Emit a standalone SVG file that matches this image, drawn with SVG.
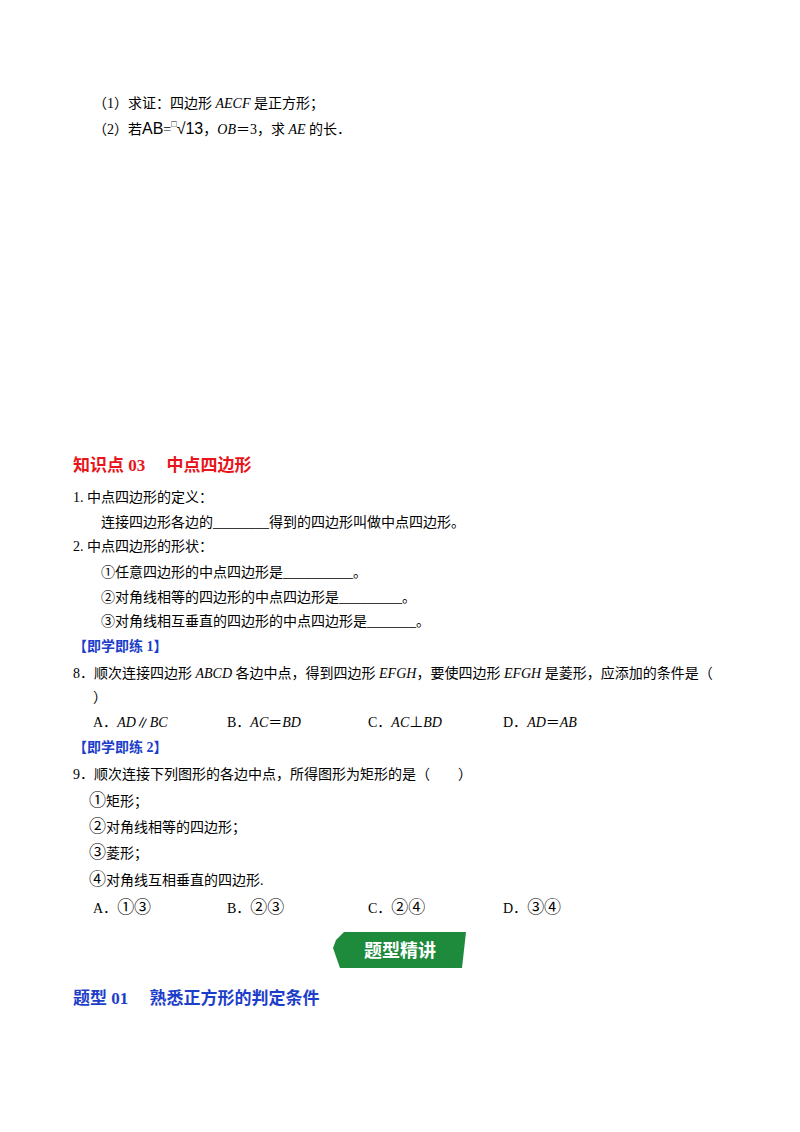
<svg xmlns="http://www.w3.org/2000/svg" width="800" height="1132" viewBox="0 0 800 1132">
<style>
text{font-family:"Liberation Serif","Noto Sans CJK SC",serif;font-size:14px;fill:#000}
.i{font-style:italic}
.h{font-size:17px;font-weight:bold}
.red{fill:#e8141c}
.blue{fill:#1d3ec9;font-weight:bold}
.c{font-size:17px}
.w{fill:#fff;font-family:"Noto Sans CJK SC",sans-serif;font-size:18px;font-weight:bold}
</style>
<rect width="800" height="1132" fill="#fff"/>
<text x="93" y="108">（1）求证：四边形 <tspan class="i">AECF</tspan> 是正方形；</text>
<text x="93" y="134">（2）若<tspan font-family="Liberation Sans" font-size="16">AB</tspan>=<tspan font-size="9" dy="-7">□</tspan><tspan dy="7" font-family="Liberation Sans" font-size="16">√13</tspan>，<tspan class="i">OB</tspan>＝3，求 <tspan class="i">AE</tspan> 的长．</text>
<text x="73" y="471" class="h red">知识点 03　 中点四边形</text>
<text x="73" y="502">1.  中点四边形的定义：</text>
<text x="101" y="527">连接四边形各边的________得到的四边形叫做中点四边形。</text>
<text x="73" y="551">2.  中点四边形的形状：</text>
<text x="101" y="577">①任意四边形的中点四边形是__________。</text>
<text x="101" y="602">②对角线相等的四边形的中点四边形是_________。</text>
<text x="101" y="626">③对角线相互垂直的四边形的中点四边形是_______。</text>
<text x="73" y="651" class="blue">【即学即练 1】</text>
<text x="73" y="678">8．顺次连接四边形 <tspan class="i">ABCD</tspan> 各边中点，得到四边形 <tspan class="i">EFGH</tspan>，要使四边形 <tspan class="i">EFGH</tspan> 是菱形，应添加的条件是（</text>
<text x="93" y="702">）</text>
<text x="93" y="727">A．<tspan class="i">AD</tspan>∥<tspan class="i">BC</tspan></text>
<text x="227" y="727">B．<tspan class="i">AC</tspan>＝<tspan class="i">BD</tspan></text>
<text x="368" y="727">C．<tspan class="i">AC</tspan>⊥<tspan class="i">BD</tspan></text>
<text x="503" y="727">D．<tspan class="i">AD</tspan>＝<tspan class="i">AB</tspan></text>
<text x="73" y="752" class="blue">【即学即练 2】</text>
<text x="73" y="779">9．顺次连接下列图形的各边中点，所得图形为矩形的是（　　）</text>
<text x="89" y="806"><tspan class="c">①</tspan>矩形；</text>
<text x="89" y="832"><tspan class="c">②</tspan>对角线相等的四边形；</text>
<text x="89" y="858"><tspan class="c">③</tspan>菱形；</text>
<text x="89" y="885"><tspan class="c">④</tspan>对角线互相垂直的四边形.</text>
<text x="93" y="913">A．<tspan class="c">①③</tspan></text>
<text x="227" y="913">B．<tspan class="c">②③</tspan></text>
<text x="368" y="913">C．<tspan class="c">②④</tspan></text>
<text x="503" y="913">D．<tspan class="c">③④</tspan></text>
<g id="badge">
<polygon points="344,932 466,932 462,968 340,968 333,948 336,940" fill="#1e8a3c"/>
<text x="400" y="957" text-anchor="middle" class="w">题型精讲</text>
</g>
<text x="73" y="1004" class="h blue">题型 01　 熟悉正方形的判定条件</text>
</svg>
